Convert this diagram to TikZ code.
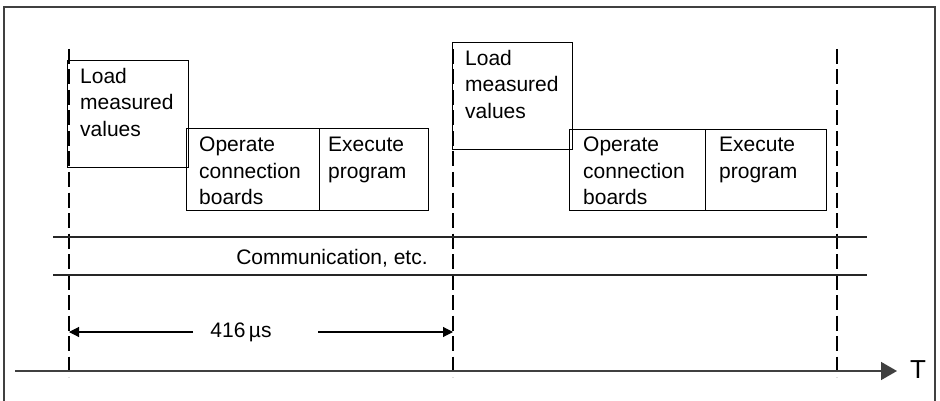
\documentclass[tikz,border=0pt]{standalone}
\usepackage{fontspec}
\setmainfont{Liberation Sans}
\usetikzlibrary{arrows.meta}
\begin{document}
\begin{tikzpicture}[x=1pt,y=-1pt,
  taskbox/.style={draw=black,line width=1.1pt,inner sep=0pt,anchor=north west},
  tasktext/.style={inner sep=0pt,anchor=north west,align=left,font=\fontsize{21}{26.5}\selectfont},
  plaintext/.style={inner sep=0pt,font=\fontsize{21}{26}\selectfont},
  cycleline/.style={draw=black,line width=1.1pt,dash pattern=on 15pt off 5.5pt},
  rowline/.style={draw=black!85,line width=1.2pt},
  dimarrow/.style={draw=black,line width=1.1pt,-{Triangle[length=10pt,width=10pt]}},
  axis/.style={draw=black!75,line width=1.5pt,-{Triangle[length=16pt,width=18pt]}},
  frameline/.style={draw=black!75,line width=1.4pt}]
\useasboundingbox (0,0) rectangle (940,401);
% frame
\draw[frameline] (4,401) -- (4,7) -- (935,7) -- (935,401);
% cycle boundaries
\coordinate (c1t) at (69,49); \coordinate (c1b) at (69,377);
\coordinate (c2t) at (453,49); \coordinate (c2b) at (453,377);
\coordinate (c3t) at (837,49); \coordinate (c3b) at (837,377);
\draw[cycleline] (c1t) -- (c1b);
\draw[cycleline] (c2t) -- (c2b);
\draw[cycleline] (c3t) -- (c3b);
% first cycle
\node[taskbox,minimum width=121pt,minimum height=107pt] (load1) at (67,60) {};
\node[taskbox,minimum width=133pt,minimum height=82pt] (oper1) at (186,128) {};
\node[taskbox,minimum width=109pt,minimum height=82pt] (exec1) at (319,128) {};
\node[tasktext] (load1t) at (80,68) {Load\\measured\\values};
\node[tasktext] (oper1t) at (199,137) {Operate\\connection\\boards};
\node[tasktext] (exec1t) at (328,137) {Execute\\program};
% second cycle
\node[taskbox,minimum width=120pt,minimum height=107pt] (load2) at (452,42) {};
\node[taskbox,minimum width=136pt,minimum height=81pt] (oper2) at (569,129) {};
\node[taskbox,minimum width=121pt,minimum height=81pt] (exec2) at (705,129) {};
\node[tasktext] (load2t) at (465,50) {Load\\measured\\values};
\node[tasktext] (oper2t) at (583,137) {Operate\\connection\\boards};
\node[tasktext] (exec2t) at (719,137) {Execute\\program};
% communication row
\coordinate (r1a) at (53,237); \coordinate (r1b) at (867,237);
\coordinate (r2a) at (53,275); \coordinate (r2b) at (867,275);
\draw[rowline] (r1a) -- (r1b);
\draw[rowline] (r2a) -- (r2b);
\node[plaintext] (comm) at (332,258) {Communication, etc.};
% dimension
\coordinate (d1) at (69,332); \coordinate (d2) at (453,332);
\coordinate (a1) at (193,332); \coordinate (a2) at (318,332);
\node[plaintext] (dim) at (241,332) {416\,µs};
\draw[dimarrow] (a1) -- (d1);
\draw[dimarrow] (a2) -- (d2);
% time axis
\coordinate (ax0) at (15,371); \coordinate (ax1) at (897,371);
\draw[axis] (ax0) -- (ax1);
\node[inner sep=0pt,font=\fontsize{26}{30}\selectfont] (T) at (918,370) {T};
\end{tikzpicture}
\end{document}
